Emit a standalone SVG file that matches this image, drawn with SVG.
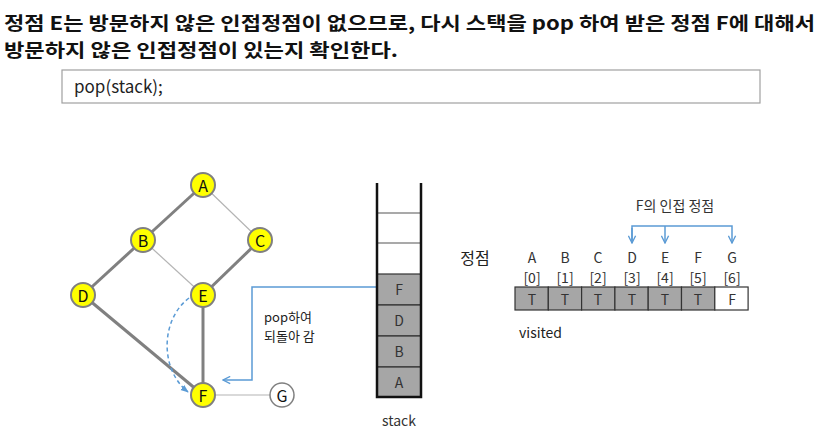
<svg xmlns="http://www.w3.org/2000/svg" width="824" height="430" viewBox="0 0 824 430">
<defs>
<style>
text{font-family:"Noto Sans CJK KR","Noto Sans",sans-serif;fill:#222}
.title{font-size:18.5px;font-weight:bold;fill:#111}
.nl{font-size:16px;text-anchor:middle;dominant-baseline:central;fill:#111}
.node{fill:#ffff00;stroke:#808080;stroke-width:2}
.thick{stroke:#808080;stroke-width:3;fill:none}
.thin{stroke:#b4b4b4;stroke-width:1.2;fill:none}
.blue{stroke:#5b9bd5;stroke-width:1.5;fill:none}
.cell{fill:#a6a6a6;stroke:#333;stroke-width:1.2}
.wcell{fill:#fff;stroke:#333;stroke-width:1.2}
.sm{font-size:14px;text-anchor:middle;dominant-baseline:central;fill:#333}
</style>
<marker id="ah" viewBox="0 0 10 10" refX="9" refY="5" markerWidth="9" markerHeight="9" orient="auto" markerUnits="userSpaceOnUse">
<path d="M1,1 L9,5 L1,9" fill="none" stroke="#5b9bd5" stroke-width="1.5"/>
</marker>
<marker id="ahf" viewBox="0 0 10 10" refX="9" refY="5" markerWidth="8" markerHeight="8" orient="auto" markerUnits="userSpaceOnUse">
<path d="M0,1 L10,5 L0,9 z" fill="#5b9bd5"/>
</marker>
</defs>

<g id="title">
<text class="title" x="4" y="30" textLength="811" lengthAdjust="spacingAndGlyphs">정점 E는 방문하지 않은 인접정점이 없으므로, 다시 스택을 pop 하여 받은 정점 F에 대해서</text>
<text class="title" x="4" y="57" textLength="394" lengthAdjust="spacingAndGlyphs">방문하지 않은 인접정점이 있는지 확인한다.</text>
</g>

<g id="code">
<rect x="62" y="70" width="698" height="33" fill="#fff" stroke="#a0a0a0" stroke-width="1.2"/>
<text x="74" y="93" font-size="17">pop(stack);</text>
</g>

<g id="connectors">
<line class="thick" x1="203" y1="185" x2="143" y2="240"/>
<line class="thin" x1="203" y1="185" x2="260" y2="240"/>
<line class="thick" x1="143" y1="240" x2="83" y2="295"/>
<line class="thin" x1="143" y1="240" x2="203" y2="295"/>
<line class="thick" x1="260" y1="240" x2="203" y2="295"/>
<line class="thick" x1="83" y1="295" x2="203" y2="395"/>
<line class="thick" x1="203" y1="295" x2="203" y2="395"/>
<line class="thin" x1="203" y1="395" x2="282" y2="395"/>
<path class="blue" d="M189,298 C160,320 160,370 188,392" stroke-dasharray="4,3" marker-end="url(#ahf)"/>
<path class="blue" d="M378,287 L252,287 L252,380 L223,380" marker-end="url(#ah)"/>
<path class="blue" d="M632,243 L632,226 L732,226 L732,243" marker-end="url(#ah)"/>
<path class="blue" d="M632,228 L632,243" marker-end="url(#ah)"/>
<path class="blue" d="M665,226 L665,243" marker-end="url(#ah)"/>
</g>

<g id="node-A"><circle class="node" cx="203" cy="185" r="12"/><text class="nl" x="203" y="185">A</text></g>
<g id="node-B"><circle class="node" cx="143" cy="240" r="12"/><text class="nl" x="143" y="240">B</text></g>
<g id="node-C"><circle class="node" cx="260" cy="240" r="12"/><text class="nl" x="260" y="240">C</text></g>
<g id="node-D"><circle class="node" cx="83" cy="295" r="12"/><text class="nl" x="83" y="295">D</text></g>
<g id="node-E"><circle class="node" cx="203" cy="295" r="12"/><text class="nl" x="203" y="295">E</text></g>
<g id="node-F"><circle class="node" cx="203" cy="395" r="12"/><text class="nl" x="203" y="395">F</text></g>
<g id="node-G"><circle cx="282" cy="395" r="12" fill="#fff" stroke="#808080" stroke-width="1.5"/><text class="nl" x="282" y="395">G</text></g>

<g id="pop-label">
<text x="264" y="322" font-size="13" fill="#333">pop하여</text>
<text x="264" y="341" font-size="13" fill="#333">되돌아 감</text>
</g>

<g id="stack">
<rect class="cell" x="377" y="274" width="44" height="31"/>
<rect class="cell" x="377" y="305" width="44" height="31"/>
<rect class="cell" x="377" y="336" width="44" height="31"/>
<rect class="cell" x="377" y="367" width="44" height="30"/>
<line x1="377" y1="213" x2="421" y2="213" stroke="#555" stroke-width="1.2"/>
<line x1="377" y1="243" x2="421" y2="243" stroke="#555" stroke-width="1.2"/>
<path d="M377,183 L377,397 L421,397 L421,183" fill="none" stroke="#111" stroke-width="2.5"/>
<text class="sm" x="399" y="289" font-size="15">F</text>
<text class="sm" x="399" y="320" font-size="15">D</text>
<text class="sm" x="399" y="351" font-size="15">B</text>
<text class="sm" x="399" y="382" font-size="15">A</text>
<text class="sm" x="399" y="420">stack</text>
</g>

<g id="visited">
<text x="475" y="257" font-size="16" text-anchor="middle" dominant-baseline="central" fill="#333">정점</text>
<text class="sm" x="532" y="257">A</text>
<text class="sm" x="565" y="257">B</text>
<text class="sm" x="598" y="257">C</text>
<text class="sm" x="632" y="257">D</text>
<text class="sm" x="665" y="257">E</text>
<text class="sm" x="698" y="257">F</text>
<text class="sm" x="732" y="257">G</text>
<text class="sm" x="532" y="277">[0]</text>
<text class="sm" x="565" y="277">[1]</text>
<text class="sm" x="598" y="277">[2]</text>
<text class="sm" x="632" y="277">[3]</text>
<text class="sm" x="665" y="277">[4]</text>
<text class="sm" x="698" y="277">[5]</text>
<text class="sm" x="732" y="277">[6]</text>
<rect class="cell" x="515" y="287" width="33.3" height="23"/>
<rect class="cell" x="548.3" y="287" width="33.3" height="23"/>
<rect class="cell" x="581.6" y="287" width="33.3" height="23"/>
<rect class="cell" x="614.9" y="287" width="33.3" height="23"/>
<rect class="cell" x="648.2" y="287" width="33.3" height="23"/>
<rect class="cell" x="681.5" y="287" width="33.3" height="23"/>
<rect class="wcell" x="714.8" y="287" width="33.3" height="23"/>
<text class="sm" x="532" y="299" font-size="13">T</text>
<text class="sm" x="565" y="299" font-size="13">T</text>
<text class="sm" x="598" y="299" font-size="13">T</text>
<text class="sm" x="632" y="299" font-size="13">T</text>
<text class="sm" x="665" y="299" font-size="13">T</text>
<text class="sm" x="698" y="299" font-size="13">T</text>
<text class="sm" x="732" y="299" font-size="13">F</text>
<text x="519" y="338" font-size="14" fill="#333">visited</text>
<text class="sm" x="675" y="205">F의 인접 정점</text>
</g>
</svg>
